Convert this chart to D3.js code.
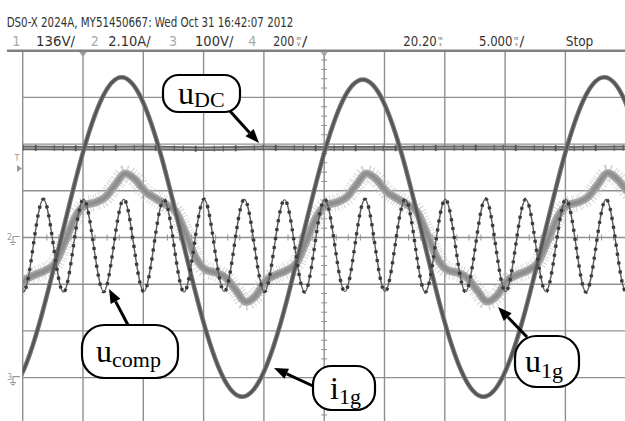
<!DOCTYPE html>
<html>
<head>
<meta charset="utf-8">
<script src="https://cdn.jsdelivr.net/npm/d3@7"></script>
<style>
	body { margin: 0; background: #fff; }
	svg { display: block; }
</style>
</head>
<body>
<svg id="scope" width="625" height="421"></svg>
<script>
// screen: 10 x 8 divisions, 5 ms/div, values in divisions from centre
const TIME_DOMAIN = [0, 50];
const DIV_DOMAIN = [-4, 4];

// u_DC, flat
const udcTime = [0, 5, 10, 15, 20, 25, 30, 35, 40, 45, 50];
const udc = [1.92, 1.91, 1.92, 1.9, 1.92, 1.91, 1.91, 1.92, 1.92, 1.91, 1.92];

// i_1g, sampled every 1.667 ms from t = -1.8 ms
const I1G_T0 = -1.8;
const I1G_STEP = 1.6667;
const i1g = [
	-3.41, -2.95, -1.7, 0, 1.7, 2.96, 3.43, 2.96, 1.7, 0, -1.7, -2.95,
	-3.41, -2.95, -1.7, 0, 1.69, 2.93, 3.38, 2.93, 1.69, 0, -1.7, -2.95,
	-3.41, -2.95, -1.7, 0, 1.7, 2.96, 3.43, 2.96, 1.7
];

// u_1g, sampled every 0.833 ms from t = -1.49 ms
const U1G_T0 = -1.49;
const U1G_STEP = 0.8333;
const u1g = [
	-1.37, -1.24, -0.92, -0.8, -0.71, -0.56,
	-0.09, 0.43, 0.69, 0.75, 0.86, 1.13, 1.37, 1.24, 0.98, 0.84, 0.71, 0.56,
	0.09, -0.43, -0.69, -0.75, -0.86, -1.13,
	-1.38, -1.24, -0.92, -0.8, -0.71, -0.56,
	-0.09, 0.43, 0.69, 0.75, 0.86, 1.13, 1.37, 1.24, 0.98, 0.84, 0.71, 0.56,
	0.09, -0.43, -0.69, -0.75, -0.86, -1.13,
	-1.37, -1.24, -0.92, -0.8, -0.71, -0.56,
	-0.09, 0.43, 0.69, 0.75, 0.86, 1.13, 1.38, 1.24, 0.98, 0.84
];

// u_comp, sampled every 0.833 ms from t = -1.62 ms
const UCOMP_T0 = -1.62;
const UCOMP_STEP = 0.8333;
const ucomp = [
	0.82, -0.17, -1.16, -0.17, 0.82, -0.17, -1.17, -0.17,
	0.82, -0.17, -1.16, -0.17, 0.82, -0.17, -1.16, -0.17,
	0.81, -0.17, -1.17, -0.17, 0.82, -0.17, -1.16, -0.17,
	0.82, -0.17, -1.16, -0.17, 0.81, -0.17, -1.17, -0.17,
	0.82, -0.17, -1.16, -0.17, 0.82, -0.17, -1.16, -0.17,
	0.82, -0.17, -1.17, -0.17, 0.82, -0.17, -1.16, -0.17,
	0.83, -0.17, -1.16, -0.17, 0.82, -0.17, -1.16, -0.17,
	0.82, -0.17, -1.17, -0.17, 0.82, -0.17, -1.16, -0.17,
	0.82
];

const header = 'DS0-X 2024A, MY51450667: Wed Oct 31 16:42:07 2012';
const channels = ['1', '2', '3', '4'];
const channelScales = ['136V/', '2.10A/', '100V/', '200'];

const $svg = d3.select('#scope');

const x = d3.scaleLinear().domain(TIME_DOMAIN).range([22.7, 625.7]);
const y = d3.scaleLinear().domain(DIV_DOMAIN).range([424.3, 50.7]);

const GRID = '#8f8f8f';
const SUBTLE = '#9a9a9a';
const H_END = 421;
const FONT = '"Liberation Sans Narrow", "DejaVu Sans Condensed", "Liberation Sans", sans-serif';

function series(t0, step, values) {
	return values.map((v, i) => ({ t: t0 + i * step, v }));
}

function text(parent, str, x0, y0, len, opts = {}) {
	const $t = parent
		.append('text')
		.attr('x', x0)
		.attr('y', y0)
		.attr('font-family', FONT)
		.attr('font-size', opts.size || 14)
		.attr('fill', opts.fill || '#333')
		.text(str);
	if (len) $t.attr('textLength', len).attr('lengthAdjust', 'spacingAndGlyphs');
	return $t;
}

function stackedUnit(top, bottom, x0, y0) {
	const g = $svg.append('g').attr('fill', '#333')
		.attr('font-family', FONT)
		.attr('font-size', 5).attr('text-anchor', 'middle');
	g.append('text').attr('x', x0).attr('y', y0 - 5.8).text(top);
	g.append('text').attr('x', x0).attr('y', y0).text(bottom);
}

function drawHeader() {
	text($svg, header, 6.7, 27, 286.6);

	const numX = [12.3, 90.7, 169, 248.3];
	const scaleX = [[36, 39], [108.3, 42.4], [195, 38.3], [273.3, 21]];
	channels.forEach((c, i) => {
		text($svg, c, numX[i], 45.5, null, { fill: '#a8a8a8' });
		text($svg, channelScales[i], scaleX[i][0], 45.5, scaleX[i][1]);
	});
	stackedUnit('m', 'V', 298.6, 45.5);
	text($svg, '/', 302, 45.5, 5.4);

	text($svg, '20.20', 403.3, 45.5, 33.5);
	stackedUnit('m', 's', 440.5, 45.5);
	text($svg, '5.000', 479, 45.5, 33.5);
	stackedUnit('m', 's', 516.3, 45.5);
	text($svg, '/', 519.6, 45.5, 4.8);
	text($svg, 'Stop', 565.7, 45.5, 27.6);
}

function drawGrid() {
	const g = $svg.append('g').attr('stroke', GRID).attr('stroke-width', 1.4);
	const vTicks = d3.range(0, 51, 5);
	const hTicks = d3.range(-4, 4, 1);

	g.selectAll('.v')
		.data(vTicks)
		.enter()
		.append('line')
		.attr('x1', d => x(d))
		.attr('x2', d => x(d))
		.attr('y1', y(4))
		.attr('y2', H_END);

	g.selectAll('.h')
		.data(hTicks)
		.enter()
		.append('line')
		.attr('x1', x(0))
		.attr('x2', 625)
		.attr('y1', d => y(d))
		.attr('y2', d => y(d));

	// minor ticks on the centre lines
	const minorY = d3.range(-4, 4.01, 0.2);
	g.selectAll('.my')
		.data(minorY)
		.enter()
		.append('line')
		.attr('stroke-width', 1)
		.attr('x1', x(25) - 3)
		.attr('x2', x(25) + 3)
		.attr('y1', d => y(d))
		.attr('y2', d => y(d));

	const minorX = d3.range(0, 50.01, 1);
	g.selectAll('.mx')
		.data(minorX)
		.enter()
		.append('line')
		.attr('stroke-width', 1)
		.attr('x1', d => x(d))
		.attr('x2', d => x(d))
		.attr('y1', y(0) - 3)
		.attr('y2', y(0) + 3);

	// top frame line
	$svg.append('line')
		.attr('x1', 7)
		.attr('x2', 625)
		.attr('y1', y(4))
		.attr('y2', y(4))
		.attr('stroke', '#808080')
		.attr('stroke-width', 2.4);
}

function drawMarkers() {
	// trigger level / position markers
	$svg.append('path')
		.attr('d', `M${x(5) - 4},${y(4) + 1}L${x(5) + 4},${y(4) + 1}L${x(5)},${y(4) + 6}Z`)
		.attr('fill', SUBTLE);
	$svg.append('path')
		.attr('d', `M${x(25) - 3},${y(4) + 1}L${x(25)},${y(4) + 5}L${x(25) + 3},${y(4) + 1}M${x(25)},${y(4) + 5}V${y(4) + 9}`)
		.attr('fill', 'none')
		.attr('stroke', SUBTLE)
		.attr('stroke-width', 1.3);

	text($svg, 'T', 14.5, 161, null, { size: 9, fill: SUBTLE });
	$svg.append('path')
		.attr('d', 'M17,165L22,168.5L17,172Z')
		.attr('fill', SUBTLE);

	[['2', y(0)], ['3', y(-3)]].forEach(([c, yy]) => {
		text($svg, c, 7, yy + 2, null, { size: 9, fill: SUBTLE });
		$svg.append('path')
			.attr('d', `M12.5,${yy - 1}H20M13,${yy - 1}V${yy + 5}M10,${yy + 5}H16M11.5,${yy + 7}H14.5`)
			.attr('fill', 'none')
			.attr('stroke', SUBTLE)
			.attr('stroke-width', 1.1);
	});
}

function drawTraces() {
	$svg.append('clipPath')
		.attr('id', 'screen')
		.append('rect')
		.attr('x', x(0))
		.attr('y', y(4) + 1)
		.attr('width', 625 - x(0))
		.attr('height', H_END - y(4));

	const g = $svg.append('g').attr('clip-path', 'url(#screen)').attr('fill', 'none');

	const smooth = d3.line().x(d => x(d.t)).y(d => y(d.v)).curve(d3.curveNatural);
	const mono = d3.line().x(d => x(d.t)).y(d => y(d.v)).curve(d3.curveMonotoneX);

	// u_DC
	const dcData = udcTime.map((t, i) => ({ t, v: udc[i] }));
	const dcLine = d3.line().x(d => x(d.t)).y(d => y(d.v)).curve(d3.curveLinear);
	g.append('path').attr('d', dcLine(dcData)).attr('stroke', '#666').attr('stroke-width', 4.6);
	g.append('path').attr('d', dcLine(dcData)).attr('stroke', '#b0b0b0').attr('stroke-width', 1.1);
	g.append('path')
		.attr('d', dcLine(dcData))
		.attr('stroke', '#555')
		.attr('stroke-width', 6)
		.attr('stroke-dasharray', '1 11 2 17 1 8');

	// u_1g
	const u1gPath = mono(series(U1G_T0, U1G_STEP, u1g));
	g.append('path')
		.attr('d', u1gPath)
		.attr('stroke', '#c2c2c2')
		.attr('stroke-width', 17)
		.attr('stroke-dasharray', '0.8 1.7 0.8 2.6')
		.attr('opacity', 0.75);
	g.append('path').attr('d', u1gPath).attr('stroke', '#a6a6a6').attr('stroke-width', 8);
	g.append('path').attr('d', u1gPath).attr('stroke', '#8e8e8e').attr('stroke-width', 4);

	// i_1g
	const i1gPath = smooth(series(I1G_T0, I1G_STEP, i1g));
	g.append('path')
		.attr('d', i1gPath)
		.attr('stroke', '#7a7a7a')
		.attr('stroke-width', 4.6);
	g.append('path').attr('d', i1gPath).attr('stroke', '#545454').attr('stroke-width', 2.4);

	// u_comp
	const ucPath = smooth(series(UCOMP_T0, UCOMP_STEP, ucomp));
	g.append('path').attr('d', ucPath).attr('stroke', '#5c5c5c').attr('stroke-width', 1.4);
	g.append('path')
		.attr('d', ucPath)
		.attr('stroke', '#3a3a3a')
		.attr('stroke-width', 3.4)
		.attr('stroke-dasharray', '3 6');
}

// callout labels: box, text, arrow (screen px)
const callouts = [
	{ box: [163, 75, 77, 37], main: 'u', sub: 'DC', tx: 178, ty: 103.5, dy: 3.5, from: [229, 110], tip: [259, 143] },
	{ box: [82, 325, 96, 53], main: 'u', sub: 'comp', tx: 96, ty: 361.5, dy: 5.5, from: [128, 325], tip: [109, 289] },
	{ box: [313, 366, 62, 44], main: 'i', sub: '1g', tx: 330, ty: 398.5, dy: 5.5, from: [313, 386], tip: [274, 368] },
	{ box: [515, 336, 64, 51], main: 'u', sub: '1g', tx: 525, ty: 371.5, dy: 6, from: [527, 337], tip: [498, 307] }
];

function drawCallouts() {
	callouts.forEach(c => {
		const [bx, by, bw, bh] = c.box;
		const [fx, fy] = c.from;
		const [px, py] = c.tip;
		const ang = Math.atan2(py - fy, px - fx);
		const hl = 14;
		const hw = 5.5;
		const bxh = px - hl * Math.cos(ang);
		const byh = py - hl * Math.sin(ang);

		$svg.append('line')
			.attr('x1', fx).attr('y1', fy)
			.attr('x2', bxh).attr('y2', byh)
			.attr('stroke', '#000').attr('stroke-width', 3);
		$svg.append('path')
			.attr('d', `M${px},${py}L${bxh - hw * Math.sin(ang)},${byh + hw * Math.cos(ang)}L${bxh + hw * Math.sin(ang)},${byh - hw * Math.cos(ang)}Z`)
			.attr('fill', '#000');

		$svg.append('rect')
			.attr('x', bx).attr('y', by)
			.attr('width', bw).attr('height', bh)
			.attr('rx', Math.min(bw, bh) * 0.42)
			.attr('fill', '#fff')
			.attr('stroke', '#000')
			.attr('stroke-width', 2.2);

		const $t = $svg.append('text')
			.attr('x', c.tx).attr('y', c.ty)
			.attr('font-family', '"Liberation Serif", "Times New Roman", serif')
			.attr('fill', '#000');
		$t.append('tspan').attr('font-size', 32).text(c.main);
		$t.append('tspan').attr('font-size', 22).attr('dy', c.dy).text(c.sub);
	});
}

drawHeader();
drawGrid();
drawMarkers();
drawTraces();
drawCallouts();
</script>
</body>
</html>
